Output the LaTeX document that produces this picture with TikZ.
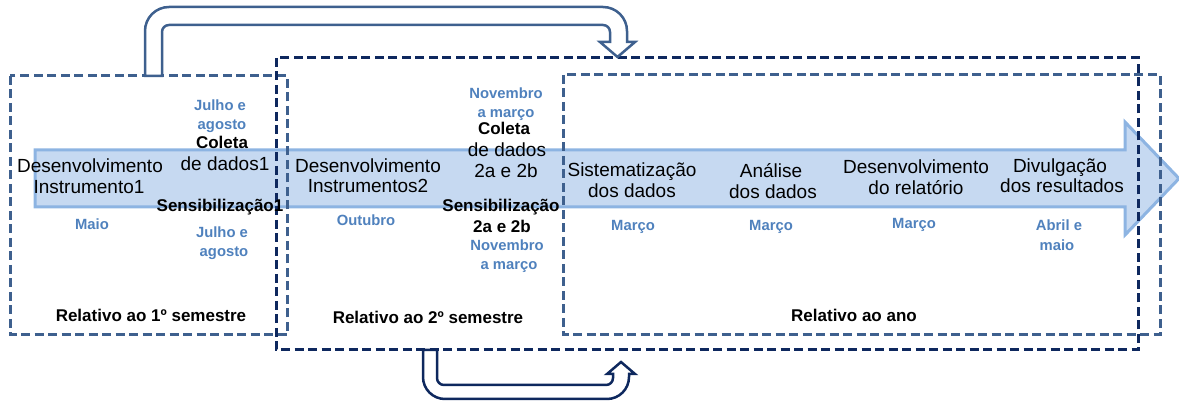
\documentclass[tikz,border=0pt]{standalone}
\usepackage{fontspec}
\setmainfont{Liberation Sans}
\definecolor{boxmid}{RGB}{62,96,142}
\definecolor{boxdark}{RGB}{14,40,94}
\definecolor{monthblue}{RGB}{79,129,189}
\definecolor{arrowfill}{RGB}{198,217,241}
\definecolor{arrowline}{RGB}{141,180,226}
\begin{document}
\begin{tikzpicture}[x=1pt,y=-1pt,
  lbl/.style={font=\fontsize{19}{21}\selectfont, anchor=base, inner sep=0pt},
  lblb/.style={font=\fontsize{17}{20}\selectfont\bfseries, anchor=base, inner sep=0pt},
  mon/.style={font=\fontsize{14.8}{18}\selectfont\bfseries, text=monthblue, anchor=base, inner sep=0pt},
  boxm/.style={draw=boxmid, line width=3pt, dash pattern=on 9pt off 4.5pt},
  boxd/.style={draw=boxdark, line width=3pt, dash pattern=on 9pt off 4.5pt},
  bigarrow/.style={draw=arrowline, fill=arrowfill, line width=3pt, line join=miter},
  uarrowm/.style={draw=boxmid, fill=white, line width=2.5pt},
  uarrowd/.style={draw=boxdark, fill=white, line width=2.5pt}]
\useasboundingbox (0,0) rectangle (1179,403);

% main timeline arrow
\draw[bigarrow] (35,150) -- (1125,150) -- (1125,122) -- (1179,178.5) -- (1125,235) -- (1125,207) -- (35,207) -- cycle;

% period boxes
\draw[boxm] (10,76) rectangle (287,335);
\draw[boxd] (276,58) rectangle (1138,350);
\draw[boxm] (563,75) rectangle (1160,335);

\coordinate (topstart) at (153.5,76);
\coordinate (toptip) at (617.5,57);
\coordinate (botstart) at (430,350);
\coordinate (bottip) at (621,362);

% top U-arrow (from 1st semester box to 2nd semester box)
\draw[uarrowm] (145,76) -- (145,31) arc (180:270:24) -- (603,7) arc (270:360:24)
  -- (627,42) -- (635,42) -- (toptip) -- (600,42) -- (610,42) -- (610,32)
  arc (0:-90:7) -- (169,25) arc (-90:-180:7) -- (162,76) -- cycle;

% bottom U-arrow (from 2nd semester box to year box)
\draw[uarrowd] (423,350) -- (423,377) arc (180:90:22) -- (607,399) arc (90:0:22)
  -- (629,374) -- (635,374) -- (bottip) -- (607,374) -- (613,374) -- (613,378)
  arc (0:90:7) -- (444,385) arc (90:180:7) -- (437,350) -- cycle;

% texts, first semester
\node[mon] (m1a) at (220,110.5) {Julho e};
\node[mon] (m1b) at (222,129.5) {agosto};
\node[lblb] (c1a) at (222,149) {Coleta};
\node[lbl] (c1b) at (225,171) {de dados1};
\node[lbl] (d1a) at (90,173) {Desenvolvimento};
\node[lbl] (d1b) at (89,194) {Instrumento1};
\node[lblb] (s1) at (220,212) {Sensibilização1};
\node[mon] (m2) at (92,230) {Maio};
\node[mon] (m3a) at (222,237.5) {Julho e};
\node[mon] (m3b) at (224,256.5) {agosto};
\node[lblb] (r1) at (151,322) {Relativo ao 1º semestre};

% second semester
\node[lbl] (d2a) at (368,173) {Desenvolvimento};
\node[lbl] (d2b) at (368,193) {Instrumentos2};
\node[mon] (m4) at (366,225.5) {Outubro};
\node[mon] (m5a) at (506,98.5) {Novembro};
\node[mon] (m5b) at (506,117.5) {a março};
\node[lblb] (c2a) at (504,135) {Coleta};
\node[lbl] (c2b) at (507,157) {de dados};
\node[lbl] (c2c) at (506,178) {2a e 2b};
\node[lblb] (s2a) at (501,212) {Sensibilização};
\node[lblb] (s2b) at (502,233) {2a e 2b};
\node[mon] (m6a) at (507,250.5) {Novembro};
\node[mon] (m6b) at (509,269.5) {a março};
\node[lblb] (r2) at (428,324) {Relativo ao 2º semestre};

% year
\node[lbl] (sa) at (632,177) {Sistematização};
\node[lbl] (sb) at (632,198) {dos dados};
\node[lbl] (aa) at (771,178) {Análise};
\node[lbl] (ab) at (773,199) {dos dados};
\node[lbl] (ra) at (916,174) {Desenvolvimento};
\node[lbl] (rb) at (916,195) {do relatório};
\node[lbl] (va) at (1060,173) {Divulgação};
\node[lbl] (vb) at (1062,193) {dos resultados};
\node[mon] (m7) at (633,230.5) {Março};
\node[mon] (m8) at (771,230.5) {Março};
\node[mon] (m9) at (914,228.5) {Março};
\node[mon] (m10a) at (1059,230.5) {Abril e};
\node[mon] (m10b) at (1057,250.5) {maio};
\node[lblb] (r3) at (854,322) {Relativo ao ano};
\end{tikzpicture}
\end{document}
